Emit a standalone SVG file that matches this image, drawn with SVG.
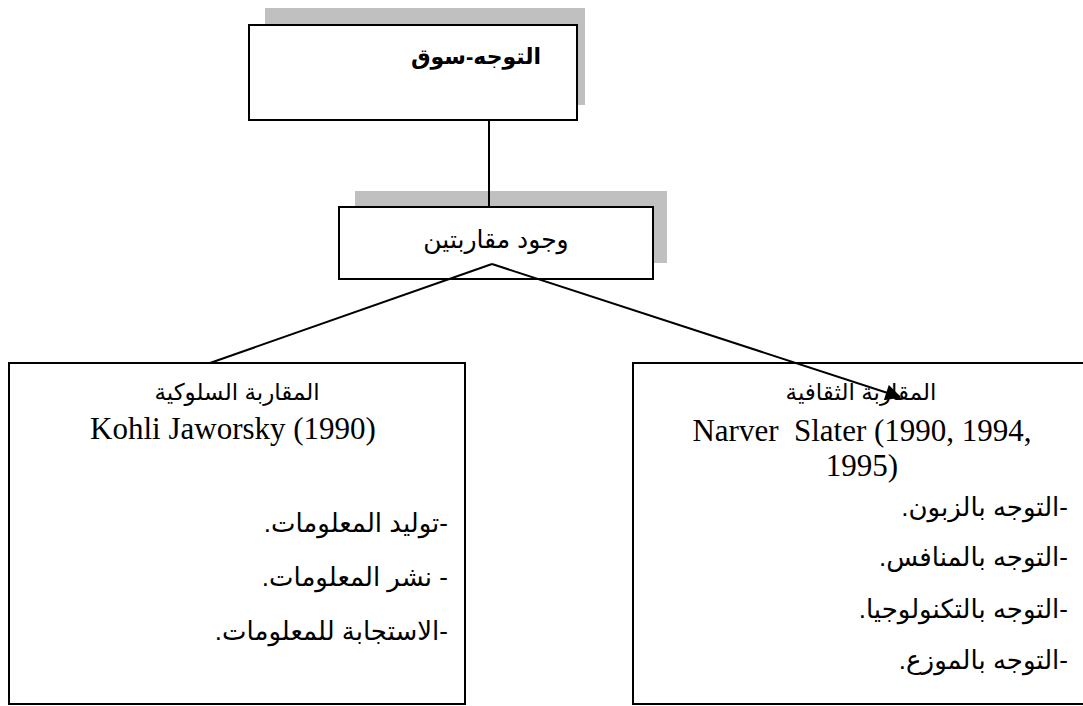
<svg xmlns="http://www.w3.org/2000/svg" width="1083" height="706" viewBox="0 0 1083 706">
  <style>
    .shadow { fill: #c0c0c0; stroke: none; }
    .box { fill: #ffffff; stroke: #000000; stroke-width: 2; }
    .link { fill: none; stroke: #000000; stroke-width: 2; }
    .ar { font-family: "Liberation Sans", "DejaVu Sans", sans-serif; fill: #000000; direction: rtl; unicode-bidi: embed; }
    .lat { font-family: "Liberation Serif", serif; fill: #000000; }
    .title { font-size: 22px; font-weight: bold; }
    .mid { font-size: 25px; }
    .head { font-size: 23px; }
    .item { font-size: 26px; }
    .ref { font-size: 31px; }
  </style>
  <defs>
    <marker id="arrow" viewBox="0 0 10 10" refX="9" refY="5" markerWidth="9" markerHeight="8" markerUnits="strokeWidth" orient="auto">
      <path d="M0,0 L10,5 L0,10 z" fill="#000000"/>
    </marker>
  </defs>

  <rect width="1083" height="706" fill="#ffffff"/>

  <!-- root: market orientation -->
  <g id="node-root">
    <rect class="shadow" x="265" y="8" width="320" height="97"/>
    <rect class="box" x="249" y="25" width="328" height="95"/>
    <text class="ar title" x="476" y="64" text-anchor="middle">التوجه-سوق</text>
  </g>

  <!-- two approaches -->
  <g id="node-approaches">
    <rect class="shadow" x="355" y="191" width="312" height="72"/>
    <rect class="box" x="339" y="207" width="314" height="72"/>
    <text class="ar mid" x="496" y="248" text-anchor="middle">وجود مقاربتين</text>
  </g>

  <!-- behavioural approach -->
  <g id="node-behavioural">
    <rect class="box" x="9" y="363" width="456" height="341"/>
    <text class="ar head" x="237" y="400" text-anchor="middle">المقاربة السلوكية</text>
    <text class="lat ref" x="233" y="439" text-anchor="middle">Kohli Jaworsky (1990)</text>
    <text class="ar item" x="448" y="532" text-anchor="start">-توليد المعلومات.</text>
    <text class="ar item" x="448" y="586" text-anchor="start">- نشر المعلومات.</text>
    <text class="ar item" x="448" y="640" text-anchor="start">-الاستجابة للمعلومات.</text>
  </g>

  <!-- cultural approach -->
  <g id="node-cultural">
    <rect class="box" x="633" y="363" width="460" height="341"/>
    <text class="ar head" x="861" y="400" text-anchor="middle">المقاربة الثقافية</text>
    <text class="lat ref" x="862" y="441" text-anchor="middle" xml:space="preserve">Narver  Slater (1990, 1994,</text>
    <text class="lat ref" x="862" y="476" text-anchor="middle">1995)</text>
    <text class="ar item" x="1068" y="516" text-anchor="start">-التوجه بالزبون.</text>
    <text class="ar item" x="1068" y="566" text-anchor="start">-التوجه بالمنافس.</text>
    <text class="ar item" x="1068" y="618" text-anchor="start">-التوجه بالتكنولوجيا.</text>
    <text class="ar item" x="1068" y="669" text-anchor="start">-التوجه بالموزع.</text>
  </g>

  <g id="connectors">
    <line class="link" x1="489" y1="120" x2="489" y2="207"/>
    <line class="link" x1="492" y1="264" x2="210" y2="363"/>
    <line class="link" x1="492" y1="264" x2="900" y2="397" marker-end="url(#arrow)"/>
  </g>
</svg>
